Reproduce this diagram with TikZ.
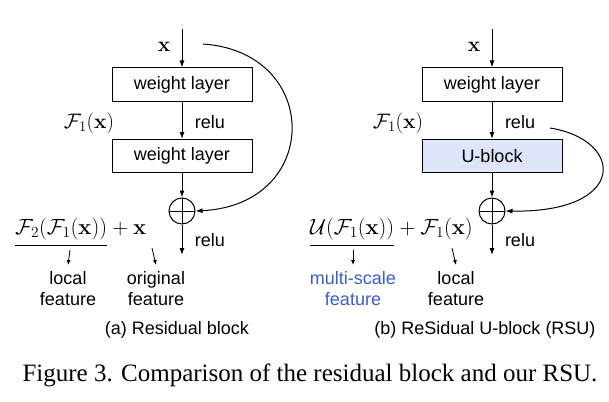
\documentclass[tikz,border=0pt]{standalone}
\usepackage{fix-cm}
\usepackage{amsmath,amssymb}
\usepackage[no-math]{fontspec}
\setmainfont{Liberation Sans}
\newfontfamily\capfont{Liberation Serif}
\usepackage{tikz}
\usetikzlibrary{positioning,arrows.meta,calc}
\definecolor{ublock}{RGB}{222,229,248}
\definecolor{msblue}{RGB}{59,92,212}
\tikzset{
  layer/.style={draw, line width=1pt, minimum width=140pt, minimum height=33pt, inner sep=0pt, font=\fontsize{18}{21}\selectfont},
  sumnode/.style={draw, circle, line width=1pt, minimum size=26pt, inner sep=0pt,
    path picture={\draw[line width=1pt] (path picture bounding box.north) -- (path picture bounding box.south)
      (path picture bounding box.west) -- (path picture bounding box.east);}},
  arr/.style={line width=1pt, -{Latex[length=7pt,width=5pt]}},
  sarr/.style={line width=0.8pt, -{Latex[length=5pt,width=4pt]}},
  mathlbl/.style={inner sep=0pt, font=\fontsize{21}{24}\selectfont},
  formula/.style={inner sep=0pt, font=\fontsize{22}{26}\selectfont},
  lbl/.style={inner sep=0pt, align=center, font=\fontsize{18}{21}\selectfont}
}

\begin{document}
\begin{tikzpicture}[x=1pt,y=-1pt]
\useasboundingbox (0,0) rectangle (609,401);
% (a) residual block
\coordinate (ain) at (182,29);
\coordinate (askip) at (203,44);
\coordinate (aout) at (182,255);
\node[mathlbl] (ax) at (164,47) {$\mathbf{x}$};
\node[layer] (aw1) at (182,84.5) {weight layer};
\node[layer] (aw2) at (182,156) {weight layer};
\node[sumnode] (asum) at (182,211) {};
\node[mathlbl] (af1) at (89,123) {$\mathcal{F}_1(\mathbf{x})$};
\node[lbl] (arelu1) at (210,122) {relu};
\node[lbl] (arelu2) at (210,240) {relu};
\draw[arr] (ain) -- (aw1);
\draw[arr] (aw1) -- (aw2);
\draw[arr] (aw2) -- (asum);
\draw[arr] (asum) -- (aout);
\draw[arr] (askip) .. controls (322,52) and (322,205) .. (asum.east);
% formula
\node[formula, anchor=base west] (aloc) at (15,234) {$\mathcal{F}_2(\mathcal{F}_1(\mathbf{x}))$};
\node[formula, anchor=base west] (aplus) at (aloc.base east) {${}+\mathbf{x}$};
\draw[line width=0.8pt] ([yshift=-6pt]aloc.south west) -- ([yshift=-6pt]aloc.south east);
\coordinate (alt) at (70,250);
\coordinate (aot) at (152,248);
\node[lbl, anchor=north] (alocal) at (68,270) {\strut local\\feature};
\node[lbl, anchor=north] (aorig) at (156,270) {\strut original\\feature};
\draw[sarr] (alt) -- ([yshift=5pt]alocal.north);
\draw[sarr] (aot) -- ([yshift=5pt]aorig.north);
\node[lbl] (acap) at (177,330) {(a) Residual block};

% (b) residual u-block
\coordinate (bin) at (492,29);
\coordinate (bskip) at (550,128);
\coordinate (bout) at (492,255);
\node[mathlbl] (bx) at (474,47) {$\mathbf{x}$};
\node[layer] (bw1) at (492,84.5) {weight layer};
\node[layer, fill=ublock] (bu) at (492,156) {U-block};
\node[sumnode] (bsum) at (492,211) {};
\node[mathlbl] (bf1) at (398,123) {$\mathcal{F}_1(\mathbf{x})$};
\node[lbl] (brelu1) at (520,122) {relu};
\node[lbl] (brelu2) at (520,240) {relu};
\draw[arr] (bin) -- (bw1);
\draw[arr] (bw1) -- (bu);
\draw[arr] (bu) -- (bsum);
\draw[arr] (bsum) -- (bout);
\draw[arr] (bskip) .. controls (625,140) and (628,213) .. (bsum.east);
% formula
\node[formula, anchor=base west] (bms) at (310,234) {$\mathcal{U}(\mathcal{F}_1(\mathbf{x}))$};
\node[formula, anchor=base west] (bplus) at (bms.base east) {${}+\mathcal{F}_1(\mathbf{x})$};
\draw[line width=0.8pt] ([yshift=-6pt]bms.south west) -- ([yshift=-6pt]bms.south east);
\coordinate (bmt) at (353,250);
\coordinate (blt) at (452,248);
\node[lbl, anchor=north, text=msblue] (bmulti) at (353,270) {\strut multi-scale\\feature};
\node[lbl, anchor=north] (blocal) at (456,270) {\strut local\\feature};
\draw[sarr] (bmt) -- ([yshift=5pt]bmulti.north);
\draw[sarr] (blt) -- ([yshift=5pt]blocal.north);
\node[lbl] (bcap) at (485,330) {(b) ReSidual U-block (RSU)};

\node[font=\capfont\fontsize{25}{28}\selectfont, inner sep=0pt] (figcap) at (310,375) {Figure 3. Comparison of the residual block and our RSU.};
\end{tikzpicture}
\end{document}
